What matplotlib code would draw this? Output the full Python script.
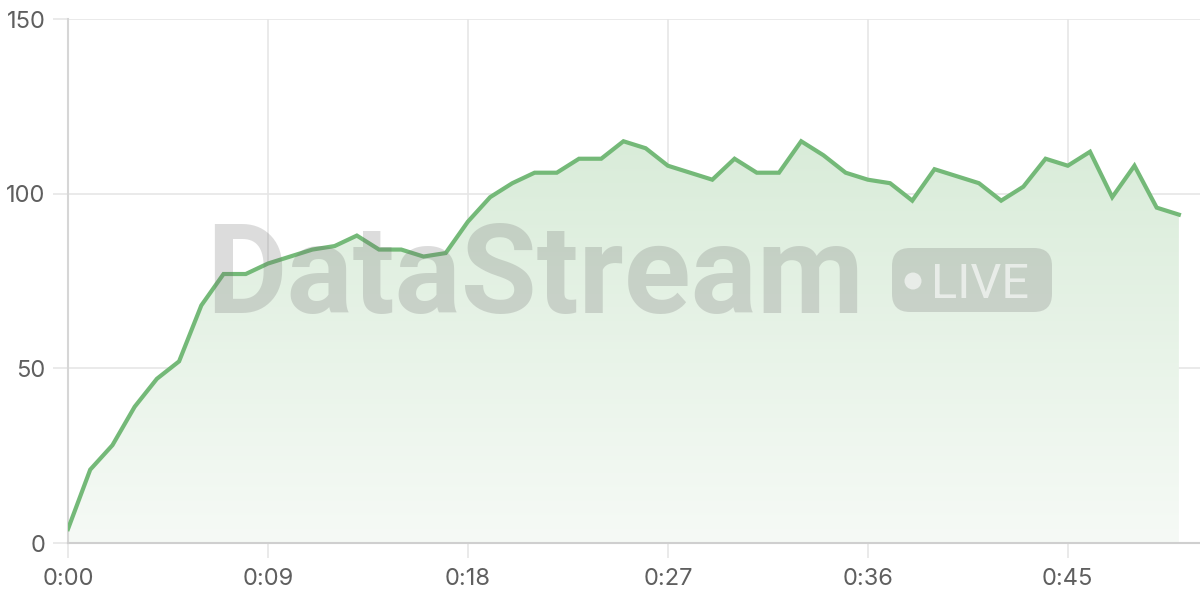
import numpy as np
import matplotlib.pyplot as plt
from matplotlib.patches import FancyBboxPatch, Circle
from matplotlib.colors import LinearSegmentedColormap

seconds = list(range(51))
values = [4, 21, 28, 39, 47, 52, 68, 77, 77, 80,
          82, 84, 85, 88, 84, 84, 82, 83, 92, 99,
          103, 106, 106, 110, 110, 115, 113, 108, 106, 104,
          110, 106, 106, 115, 111, 106, 104, 103, 98, 107,
          105, 103, 98, 102, 110, 108, 112, 99, 108, 96,
          94]
tick_pos = [0, 9, 18, 27, 36, 45]
tick_labels = ["0:00", "0:09", "0:18", "0:27", "0:36", "0:45"]
y_ticks = [0, 50, 100, 150]

LINE = "#74b978"
GRID = "#e6e6e6"
TEXT = "#5f5f5f"

plt.rcParams["font.family"] = ["Inter", "DejaVu Sans"]

fig = plt.figure(figsize=(12, 6), dpi=100)
ax = fig.add_axes([68 / 1200, 57 / 600, 1132 / 1200, 524 / 600])

x = np.array(seconds)
y = np.array(values)

# gradient fill under the line
grad = np.linspace(0, 1, 256).reshape(-1, 1)
cmap = LinearSegmentedColormap.from_list("g", ["#f6faf6", "#d9ecd9"])
poly = ax.fill_between(x, y, 0, color="none")
img = ax.imshow(grad, aspect="auto", cmap=cmap, origin="lower",
                extent=[0, 50, 0, 115], zorder=1)
img.set_clip_path(poly.get_paths()[0], transform=ax.transData)

ax.plot(x, y, color=LINE, lw=3, zorder=4, solid_joinstyle="miter")

ax.set_xlim(0, 50.95)
ax.set_ylim(0, 150)
ax.set_xticks(tick_pos, tick_labels)
ax.set_yticks(y_ticks)
ax.grid(True, color=GRID, lw=1.2, zorder=0)
ax.set_axisbelow(True)
for s in ["top", "right"]:
    ax.spines[s].set_visible(False)
ax.spines["left"].set_color("#d6d6d6")
ax.spines["left"].set_linewidth(1.5)
ax.spines["bottom"].set_color("#cfcfcf")
ax.spines["bottom"].set_linewidth(1.5)
ax.tick_params(axis="both", length=11, width=1.2, color=GRID,
               labelsize=17, labelcolor=TEXT)
ax.tick_params(axis="y", pad=5)
ax.tick_params(axis="x", pad=7)

# watermark (pixel positions via inches)
tr = fig.dpi_scale_trans
fig.text(2.06, 2.87, "DataStream", fontsize=89, fontweight="bold",
         color="#6f6f6f", alpha=0.24, ha="left", va="baseline", zorder=3,
         family=["Roboto", "DejaVu Sans"], transform=tr)
badge = FancyBboxPatch((8.92, 2.88), 1.60, 0.64,
                       boxstyle="round,pad=0,rounding_size=0.18",
                       transform=tr, facecolor="#6f6f6f",
                       alpha=0.24, edgecolor="none", zorder=3)
fig.add_artist(badge)
fig.add_artist(Circle((9.13, 3.19), 0.085, transform=tr,
                      facecolor="white", alpha=0.6, edgecolor="none", zorder=3))
fig.text(9.31, 3.02, "LIVE", fontsize=35, color="white", alpha=0.6,
         ha="left", va="baseline", zorder=3,
         family=["Roboto", "DejaVu Sans"], transform=tr)

fig.savefig("out.png", dpi=100)
